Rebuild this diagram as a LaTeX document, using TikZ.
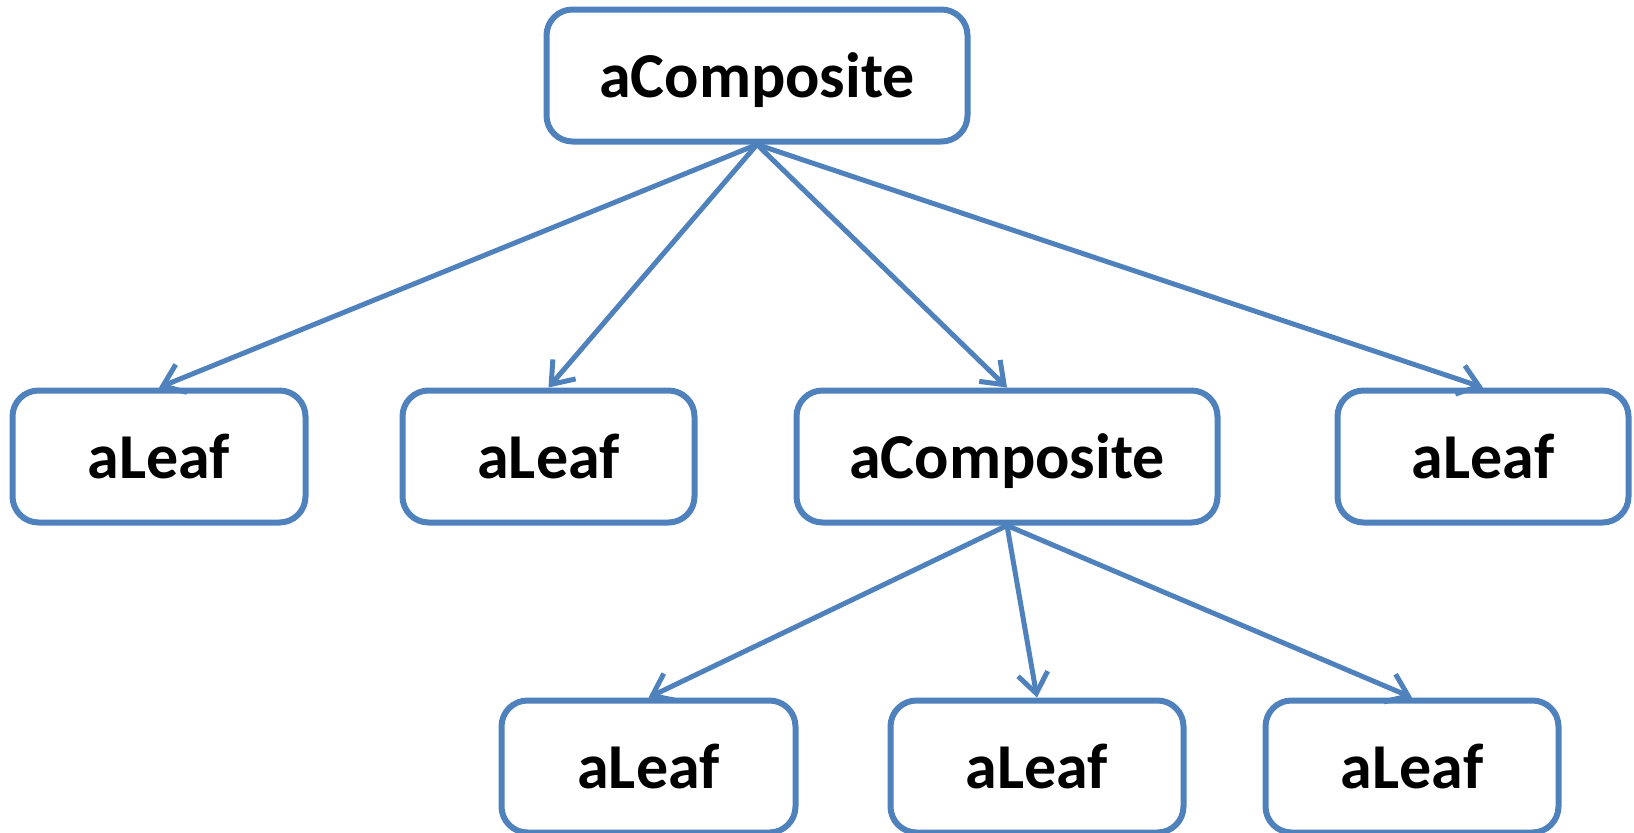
\documentclass[tikz,border=0pt]{standalone}
\usepackage{fontspec}
\setmainfont{Carlito}
\usetikzlibrary{arrows.meta}
\definecolor{boxblue}{HTML}{4F81BD}
\begin{document}
\begin{tikzpicture}[x=1pt,y=-1pt,
  objbox/.style={draw=boxblue, line width=6pt, rounded corners=26pt, fill=white,
    minimum height=132pt, inner sep=0pt, text height=54pt, text depth=10pt,
    font=\fontsize{64}{64}\selectfont\bfseries},
  link/.style={draw=boxblue, line width=5pt, line cap=round,
    -{Straight Barb[length=20pt, width=30pt, line width=5pt]}}]
  \useasboundingbox (0,0) rectangle (1634,833);
  % objects
  \node[objbox, minimum width=421pt] (root) at (757,75.5) {aComposite};
  \node[objbox, minimum width=293pt] (leafA) at (159,456.5) {aLeaf};
  \node[objbox, minimum width=292pt] (leafB) at (548.5,456.5) {aLeaf};
  \node[objbox, minimum width=421pt] (sub) at (1007,456.5) {aComposite};
  \node[objbox, minimum width=291pt] (leafC) at (1483,456.5) {aLeaf};
  \node[objbox, minimum width=294pt] (leafD) at (648.5,766.5) {aLeaf};
  \node[objbox, minimum width=293pt] (leafE) at (1037,766.5) {aLeaf};
  \node[objbox, minimum width=293pt] (leafF) at (1412,766.5) {aLeaf};
  % child links
  \draw[link] (root.south) -- (leafA.north);
  \draw[link] (root.south) -- (leafB.north);
  \draw[link] (root.south) -- (sub.north);
  \draw[link] (root.south) -- (leafC.north);
  \draw[link] (sub.south) -- (leafD.north);
  \draw[link] (sub.south) -- (leafE.north);
  \draw[link] (sub.south) -- (leafF.north);
\end{tikzpicture}
\end{document}
